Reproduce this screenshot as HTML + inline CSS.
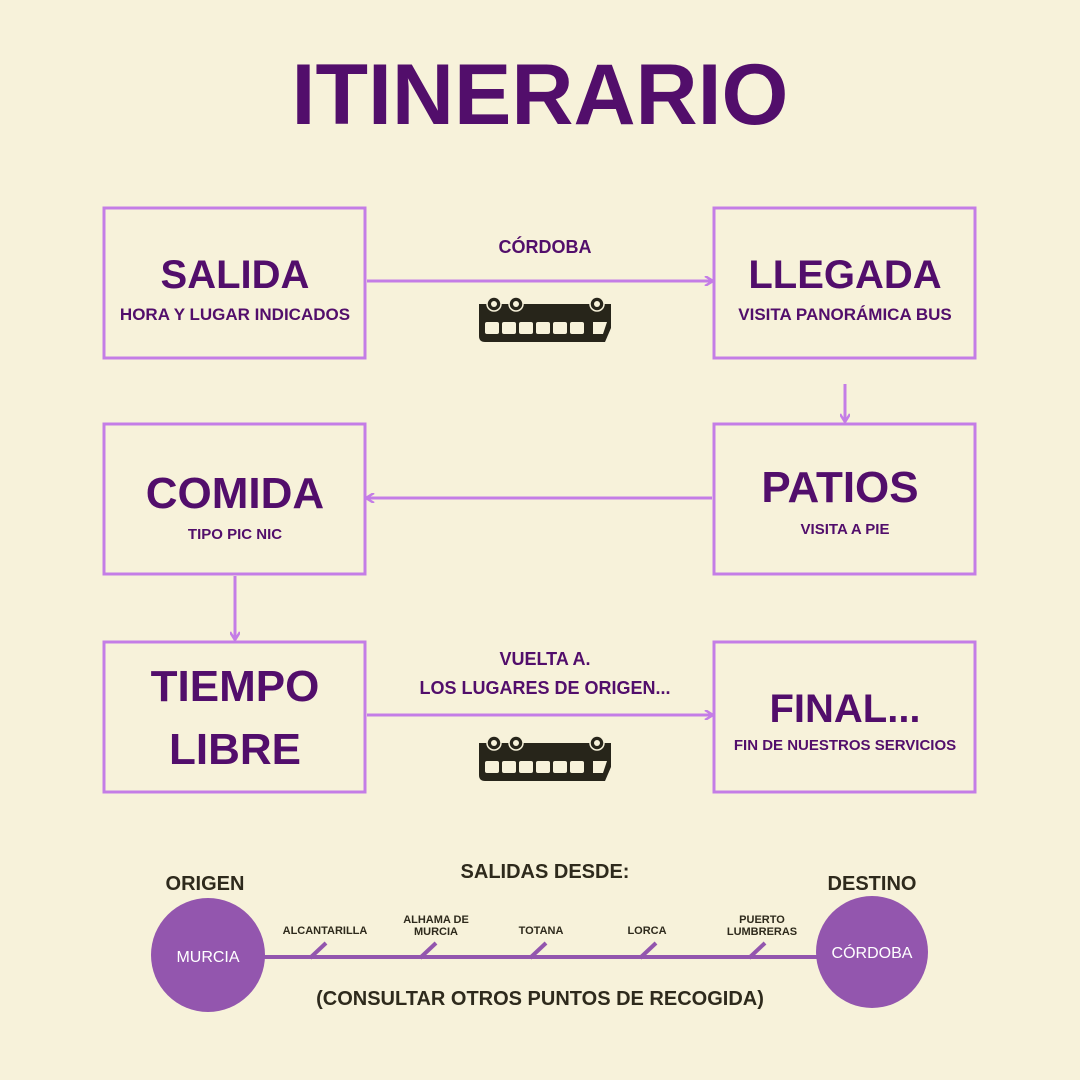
<!DOCTYPE html>
<html><head><meta charset="utf-8"><style>
body{margin:0;background:#f7f2da}
svg{display:block}
text{font-family:"Liberation Sans",sans-serif;font-weight:bold}
</style></head><body>
<svg width="1080" height="1080" viewBox="0 0 1080 1080">
<rect width="1080" height="1080" fill="#f7f2da"/>
<defs>
<g id="bus">
<path d="M2,6 H134 V30 L128,44 H8 Q2,44 2,38 Z" fill="#27251a"/>
<circle cx="17" cy="6" r="7" fill="#27251a" stroke="#f7f2da" stroke-width="1.5"/><circle cx="17" cy="6" r="3" fill="#f7f2da"/>
<circle cx="39" cy="6" r="7" fill="#27251a" stroke="#f7f2da" stroke-width="1.5"/><circle cx="39" cy="6" r="3" fill="#f7f2da"/>
<circle cx="120" cy="6" r="7" fill="#27251a" stroke="#f7f2da" stroke-width="1.5"/><circle cx="120" cy="6" r="3" fill="#f7f2da"/>
<g fill="#f7f2da">
<rect x="8" y="24" width="14" height="12" rx="2"/><rect x="25" y="24" width="14" height="12" rx="2"/><rect x="42" y="24" width="14" height="12" rx="2"/><rect x="59" y="24" width="14" height="12" rx="2"/><rect x="76" y="24" width="14" height="12" rx="2"/><rect x="93" y="24" width="14" height="12" rx="2"/>
<path d="M116,24 H130 L126,36 H116 Z"/>
</g>
</g>
<marker id="ah" markerWidth="10" markerHeight="10" refX="8" refY="5" orient="auto" markerUnits="userSpaceOnUse"><path d="M1,0 L9,5 L1,10" fill="none" stroke="#c47de6" stroke-width="2.5"/></marker>
</defs>
<text x="540" y="124" text-anchor="middle" font-size="86" fill="#520e6b">ITINERARIO</text>
<g fill="none" stroke="#c47de6" stroke-width="3">
<rect x="104" y="208" width="261" height="150"/>
<rect x="714" y="208" width="261" height="150"/>
<rect x="104" y="424" width="261" height="150"/>
<rect x="714" y="424" width="261" height="150"/>
<rect x="104" y="642" width="261" height="150"/>
<rect x="714" y="642" width="261" height="150"/>
<line x1="367" y1="281" x2="712" y2="281" marker-end="url(#ah)"/>
<line x1="845" y1="384" x2="845" y2="421" marker-end="url(#ah)"/>
<line x1="712" y1="498" x2="367" y2="498" marker-end="url(#ah)"/>
<line x1="235" y1="576" x2="235" y2="639" marker-end="url(#ah)"/>
<line x1="367" y1="715" x2="712" y2="715" marker-end="url(#ah)"/>
</g>
<g fill="#520e6b" text-anchor="middle">
<text x="235" y="288" font-size="40">SALIDA</text>
<text x="235" y="320" font-size="17">HORA Y LUGAR INDICADOS</text>
<text x="845" y="288" font-size="40">LLEGADA</text>
<text x="845" y="320" font-size="17">VISITA PANORÁMICA BUS</text>
<text x="235" y="508" font-size="44">COMIDA</text>
<text x="235" y="539" font-size="15">TIPO PIC NIC</text>
<text x="840" y="502" font-size="44">PATIOS</text>
<text x="845" y="534" font-size="15">VISITA A PIE</text>
<text x="235" y="701" font-size="44">TIEMPO</text>
<text x="235" y="764" font-size="44">LIBRE</text>
<text x="845" y="722" font-size="40">FINAL...</text>
<text x="845" y="750" font-size="15">FIN DE NUESTROS SERVICIOS</text>
<text x="545" y="253" font-size="18">CÓRDOBA</text>
<text x="545" y="665" font-size="18">VUELTA A.</text>
<text x="545" y="694" font-size="18">LOS LUGARES DE ORIGEN...</text>
</g>
<use href="#bus" x="477" y="298"/>
<use href="#bus" x="477" y="737"/>
<g fill="#2e2a1c" text-anchor="middle">
<text x="205" y="890" font-size="20">ORIGEN</text>
<text x="872" y="890" font-size="20">DESTINO</text>
<text x="545" y="878" font-size="20">SALIDAS DESDE:</text>
<text x="540" y="1005" font-size="20">(CONSULTAR OTROS PUNTOS DE RECOGIDA)</text>
<g font-size="11">
<text x="325" y="934">ALCANTARILLA</text>
<text x="436" y="923">ALHAMA DE</text><text x="436" y="935">MURCIA</text>
<text x="541" y="934">TOTANA</text>
<text x="647" y="934">LORCA</text>
<text x="762" y="923">PUERTO</text><text x="762" y="935">LUMBRERAS</text>
</g>
</g>
<line x1="262" y1="957" x2="820" y2="957" stroke="#9356ae" stroke-width="4"/>
<g stroke="#9356ae" stroke-width="4">
<line x1="310" y1="958" x2="326" y2="943"/>
<line x1="420" y1="958" x2="436" y2="943"/>
<line x1="530" y1="958" x2="546" y2="943"/>
<line x1="640" y1="958" x2="656" y2="943"/>
<line x1="749" y1="958" x2="765" y2="943"/>
</g>
<ellipse cx="208" cy="955" rx="57" ry="57" fill="#9356ae"/>
<ellipse cx="872" cy="952" rx="56" ry="56" fill="#9356ae"/>
<text x="208" y="962" font-size="16" fill="#fff" text-anchor="middle" font-weight="normal" style="font-weight:normal">MURCIA</text>
<text x="872" y="958" font-size="16" fill="#fff" text-anchor="middle" style="font-weight:normal">CÓRDOBA</text>
</svg>
</body></html>
